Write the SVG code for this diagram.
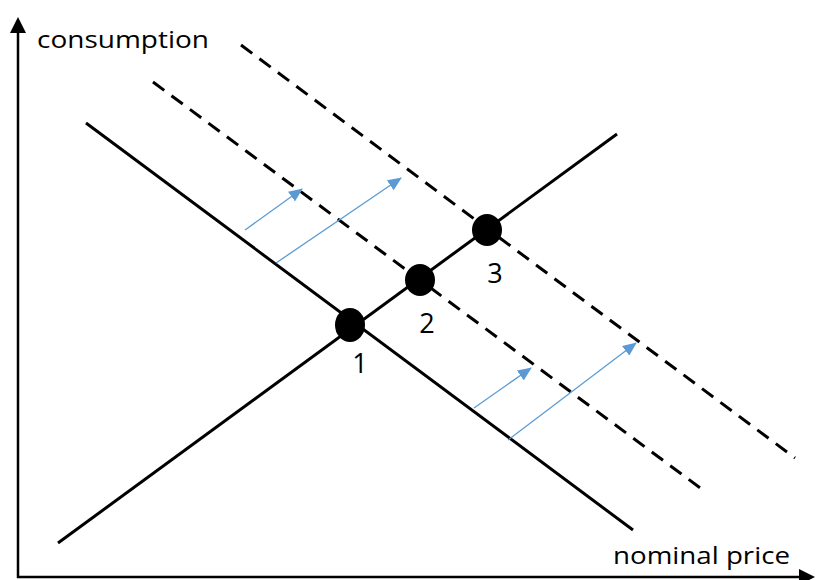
<svg xmlns="http://www.w3.org/2000/svg" width="817" height="580" viewBox="0 0 817 580">
  <style>
    .axis { stroke: #000; stroke-width: 2.5; fill: none; }
    .solid { stroke: #000; stroke-width: 3; fill: none; }
    .dash { stroke: #000; stroke-width: 3; fill: none; stroke-dasharray: 14 9; }
    .shift { stroke: #5B9BD5; stroke-width: 1.3; fill: none; marker-end: url(#blueHead); }
    .lbl { font-family: "Open Sans", "Liberation Sans", sans-serif; font-size: 24px; fill: #000; }
    .num { font-family: "Open Sans", "Liberation Sans", sans-serif; font-size: 27px; fill: #000; text-anchor: middle; }
  </style>
  <defs>
    <marker id="blueHead" markerWidth="14" markerHeight="12" refX="13" refY="6" orient="auto" markerUnits="userSpaceOnUse">
      <path d="M0,0 L14,6 L0,12 Z" fill="#5B9BD5"/>
    </marker>
    <marker id="axisHead" markerWidth="16" markerHeight="16" refX="1" refY="8" orient="auto" markerUnits="userSpaceOnUse">
      <path d="M0,0 L16,8 L0,16 Z" fill="#000"/>
    </marker>
  </defs>
  <rect width="817" height="580" fill="#fff"/>

  <g id="axes">
    <path class="axis" d="M18,578 L18,32" marker-end="url(#axisHead)"/>
    <path class="axis" d="M17,577 L800,577" marker-end="url(#axisHead)"/>
    <text class="lbl" x="37" y="48" textLength="172" lengthAdjust="spacingAndGlyphs">consumption</text>
    <text class="lbl" x="613" y="564" textLength="177" lengthAdjust="spacingAndGlyphs">nominal price</text>
  </g>

  <g id="connectors">
    <line id="demand" class="solid" x1="86" y1="123" x2="633" y2="530"/>
    <line id="supply" class="solid" x1="58" y1="543" x2="617" y2="134"/>
    <line id="demand-2" class="dash" x1="153" y1="82" x2="703" y2="490"/>
    <line id="demand-3" class="dash" x1="241" y1="45" x2="795" y2="458"/>
    <line class="shift" x1="245" y1="230" x2="302" y2="189"/>
    <line class="shift" x1="276" y1="263" x2="401" y2="178"/>
    <line class="shift" x1="474" y1="408" x2="531" y2="368"/>
    <line class="shift" x1="508" y1="440" x2="636" y2="343"/>
  </g>

  <g id="point-1">
    <ellipse cx="350" cy="325" rx="15" ry="17" fill="#000"/>
    <text class="num" x="360" y="373">1</text>
  </g>
  <g id="point-2">
    <ellipse cx="420" cy="280" rx="15" ry="16" fill="#000"/>
    <text class="num" x="427" y="333">2</text>
  </g>
  <g id="point-3">
    <ellipse cx="487" cy="230" rx="15" ry="16" fill="#000"/>
    <text class="num" x="495" y="283">3</text>
  </g>
</svg>
